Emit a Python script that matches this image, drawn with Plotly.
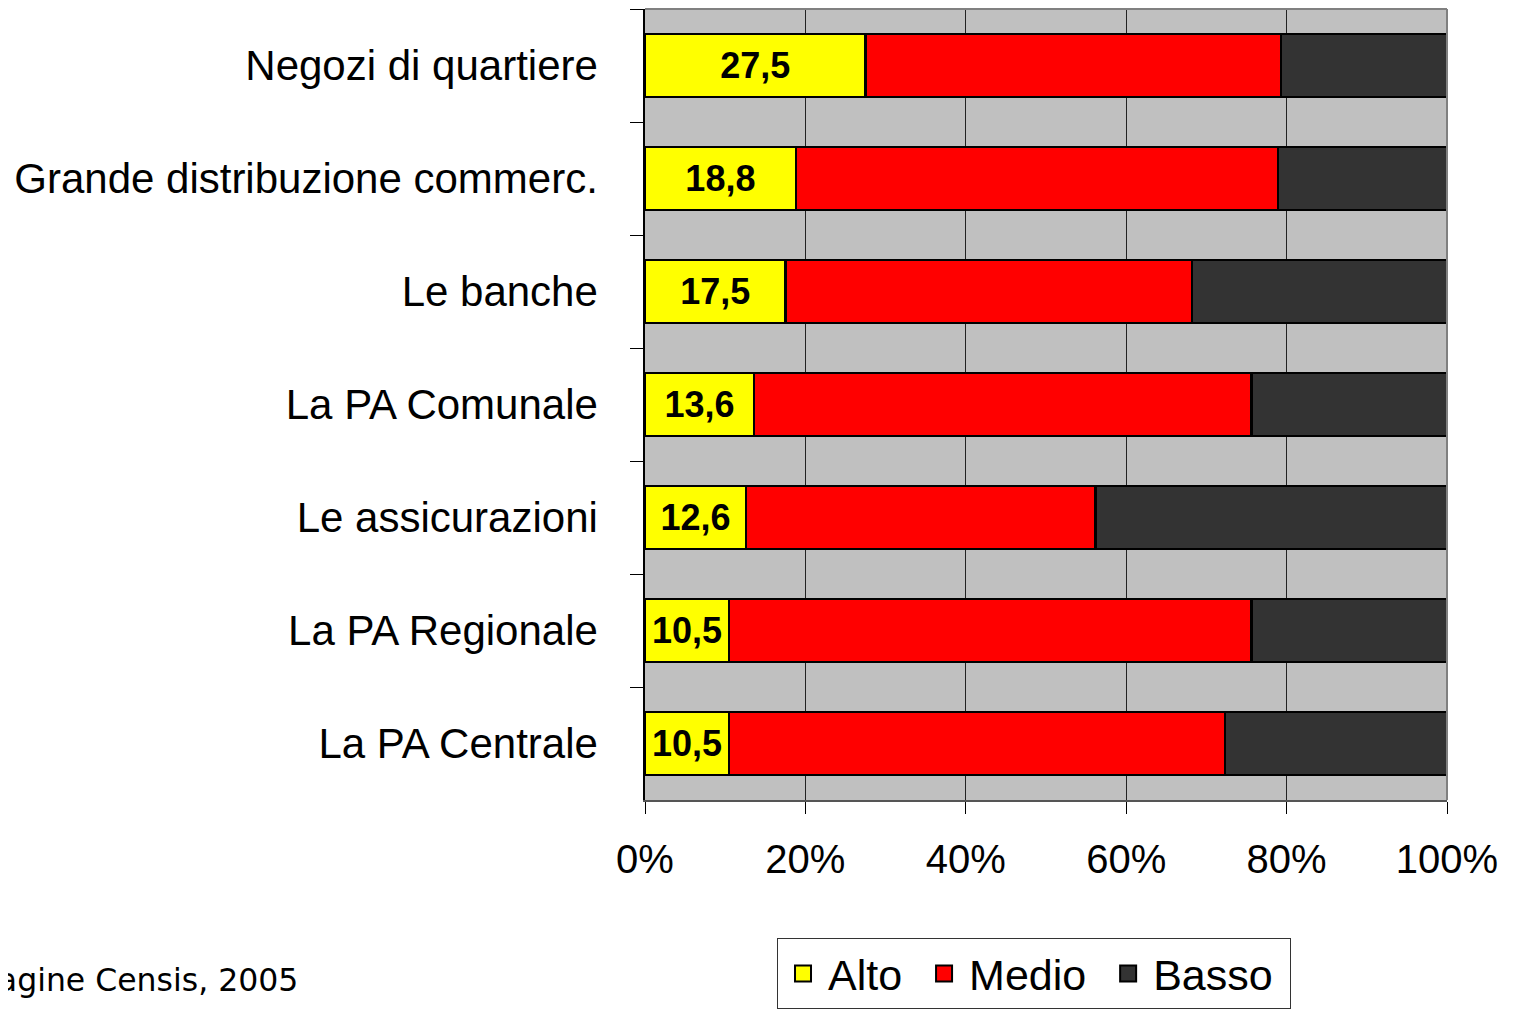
import plotly.graph_objects as go

categories = ["Negozi di quartiere", "Grande distribuzione commerc.", "Le banche",
              "La PA Comunale", "Le assicurazioni", "La PA Regionale", "La PA Centrale"]
alto = [27.5, 18.8, 17.5, 13.6, 12.6, 10.5, 10.5]
medio = [51.8, 60.1, 50.7, 62.0, 43.6, 65.1, 61.8]
basso = [20.7, 21.1, 31.8, 24.4, 43.8, 24.4, 27.7]
series_names = ["Alto", "Medio", "Basso"]
colors = ["#FFFF00", "#FF0000", "#333333"]
x_ticks = [0, 20, 40, 60, 80, 100]
x_tick_labels = ["0%", "20%", "40%", "60%", "80%", "100%"]
source_text = "Fonte: Indagine Censis, 2005"

fig = go.Figure()
for name, vals, col in zip(series_names, [alto, medio, basso], colors):
    fig.add_trace(go.Bar(
        y=categories, x=vals, name=name, orientation="h",
        marker=dict(color=col, line=dict(color="black", width=2.5)),
        text=[f"{v:.1f}".replace(".", ",") for v in vals] if name == "Alto" else None,
        textposition="inside" if name == "Alto" else "none",
        insidetextanchor="middle",
        constraintext="none",
        textfont=dict(family="Liberation Sans, Arial", size=36, color="black", weight="bold"),
        showlegend=False, hoverinfo="x+y",
    ))
    # legend swatch (non-breaking space adds the original's gap between entries)
    fig.add_trace(go.Scatter(
        x=[None], y=[None], mode="markers", name=name + "\u00a0",
        marker=dict(symbol="square", size=22, color=col, line=dict(color="black", width=2)),
        showlegend=True,
    ))

fig.update_layout(
    width=1513, height=1009,
    barmode="stack", bargap=0.44,
    paper_bgcolor="white", plot_bgcolor="#C0C0C0",
    margin=dict(l=637, r=74, t=1, b=217, autoexpand=False),
    font=dict(family="Liberation Sans, Arial", size=40, color="black"),
    showlegend=True,
    legend=dict(orientation="h", x=0.1646, y=-0.1745, xanchor="left", yanchor="top",
                bordercolor="#333333", borderwidth=1, bgcolor="white",
                traceorder="normal",
                font=dict(size=43), itemwidth=40, tracegroupgap=0),
    xaxis=dict(range=[0, 100], tickvals=x_ticks, ticktext=x_tick_labels, tickmode="array",
               showgrid=True, gridcolor="#222222", gridwidth=1,
               ticks="outside", ticklen=12, tickcolor="black", tickwidth=1,
               showline=True, linecolor="#555555", linewidth=2,
               zeroline=False, ticklabelstandoff=11, automargin=False,
               tickfont=dict(size=40)),
    yaxis=dict(categoryorder="array", categoryarray=categories, autorange="reversed",
               ticks="outside", tickson="boundaries", ticklen=13, tickcolor="black",
               showline=True, linecolor="black", linewidth=1.5, automargin=False,
               showgrid=False, ticklabelstandoff=37, tickfont=dict(size=42)),
    shapes=[dict(type="line", xref="paper", yref="paper", x0=0, x1=1, y0=1, y1=1,
                 line=dict(color="#808080", width=2)),
            dict(type="line", xref="paper", yref="paper", x0=1, x1=1, y0=0, y1=1,
                 line=dict(color="#808080", width=2))],
    annotations=[dict(text=source_text, xref="paper", yref="paper",
                      x=-0.430, y=-0.2276, xanchor="right", yanchor="middle",
                      showarrow=False,
                      font=dict(family="DejaVu Sans, Verdana", size=31.5, color="black"))],
)

fig.write_html("out.html")
